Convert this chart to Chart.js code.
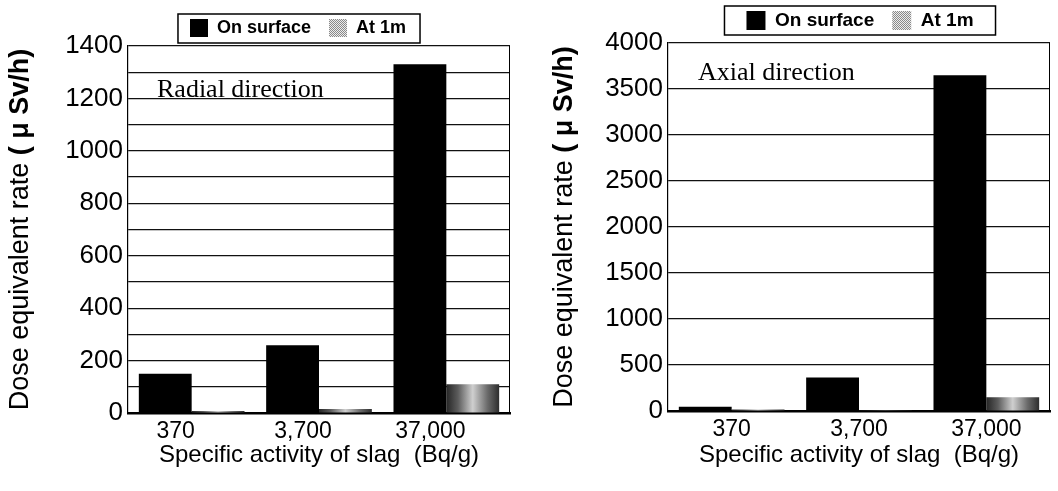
<!DOCTYPE html>
<html>
<head>
<meta charset="utf-8">
<script src="https://cdn.jsdelivr.net/npm/chart.js@4"></script>
<style>
  html, body { margin: 0; padding: 0; background: #fff; }
  #wrap { position: relative; width: 1058px; height: 491px; overflow: hidden; }
  .panel { position: absolute; top: 0; height: 491px; }
</style>
</head>
<body>
<div id="wrap">
  <div class="panel" style="left:0;width:530px"><canvas id="radial"></canvas></div>
  <div class="panel" style="left:530px;width:528px"><canvas id="axial"></canvas></div>
</div>
<script>
// Specific activity of slag (Bq/g)
const categories = ['370', '3,700', '37,000'];
const seriesNames = ['On surface', 'At 1m'];

// Dose equivalent rate (μSv/h), radial direction
const radialOnSurface = [150, 258, 1330];
const radialAt1m = [8, 15, 110];

// Dose equivalent rate (μSv/h), axial direction
const axialOnSurface = [45, 365, 3650];
const axialAt1m = [15, 8, 150];

// Value axes: [max, grid step, label step]
const radialAxis = [1400, 100, 200];
const axialAxis = [4000, 500, 500];

const xTitle = 'Specific activity of slag  (Bq/g)';
const yTitlePlain = 'Dose equivalent rate ';
const yTitleUnit = '( \u03bc Sv/h)';

const CATEGORY_SHARE = 0.83;
const SANS = '"Liberation Sans", Arial, sans-serif';
const SERIF = '"Liberation Serif", "Times New Roman", serif';

Chart.defaults.font.family = SANS;
Chart.defaults.color = '#000';

// Halftone-like cylinder shading for the "At 1m" bars
function shadedFill(context) {
  const chart = context.chart;
  const xs = chart.scales && chart.scales.x;
  if (!xs || context.dataIndex == null || !chart.chartArea) return '#9a9a9a';
  const catW = (xs.right - xs.left) / categories.length;
  const barW = catW * CATEGORY_SHARE / 2;
  const x0 = xs.getPixelForValue(context.dataIndex);
  if (!Number.isFinite(x0) || !Number.isFinite(barW) || barW <= 0) return '#9a9a9a';
  const g = chart.ctx.createLinearGradient(x0, 0, x0 + barW, 0);
  g.addColorStop(0, '#262626');
  g.addColorStop(0.22, '#5c5c5c');
  g.addColorStop(0.5, '#cfcfcf');
  g.addColorStop(0.78, '#6a6a6a');
  g.addColorStop(1, '#2c2c2c');
  return g;
}

// Dotted grey swatch used in the legend
function dottedSwatch(chart) {
  const c = document.createElement('canvas');
  c.width = 2; c.height = 2;
  const x = c.getContext('2d');
  x.fillStyle = '#ececec'; x.fillRect(0, 0, 2, 2);
  x.fillStyle = '#8a8a8a'; x.fillRect(0, 0, 1, 1); x.fillRect(1, 1, 1, 1);
  return chart.ctx.createPattern(c, 'repeat');
}

// Places the legend row above the plot and draws a frame around it
const legendFrame = {
  id: 'legendFrame',
  afterLayout(chart, args, o) {
    const lg = chart.legend;
    if (!lg) return;
    lg.left = o.cx - 260; lg.right = o.cx + 260;
    lg.top = o.top; lg.bottom = o.top + 44;
  },
  afterDraw(chart, args, o) {
    const hb = chart.legend && chart.legend.legendHitBoxes;
    if (!hb || !hb.length) return;
    const first = hb[0], last = hb[hb.length - 1];
    const l = first.left - o.padL, r = last.left + last.width + o.padR;
    const t = first.top - o.padT, b = first.top + first.height + o.padB;
    const ctx = chart.ctx;
    ctx.save();
    ctx.strokeStyle = '#000';
    ctx.lineWidth = 1.5;
    ctx.strokeRect(l, t, r - l, b - t);
    ctx.restore();
  }
};

// Rotated value-axis caption with a bold unit part
const yCaption = {
  id: 'yCaption',
  afterDraw(chart, args, o) {
    const { ctx, chartArea } = chart;
    const cy = (chartArea.top + chartArea.bottom) / 2 + o.dy;
    const fa = o.size + 'px ' + SANS;
    const fb = 'bold ' + o.size + 'px ' + SANS;
    ctx.save();
    ctx.translate(o.x, cy);
    ctx.rotate(-Math.PI / 2);
    ctx.fillStyle = '#000';
    ctx.textBaseline = 'middle';
    ctx.textAlign = 'left';
    ctx.font = fa; const wa = ctx.measureText(yTitlePlain).width;
    ctx.font = fb; const wb = ctx.measureText(yTitleUnit).width;
    const x = -(wa + wb) / 2;
    ctx.font = fa; ctx.fillText(yTitlePlain, x, 0);
    ctx.font = fb; ctx.fillText(yTitleUnit, x + wa, 0);
    ctx.restore();
  }
};

// Direction note inside the plot, plus the right-hand plot border
const panelNote = {
  id: 'panelNote',
  afterDraw(chart, args, o) {
    const { ctx, chartArea } = chart;
    ctx.save();
    ctx.strokeStyle = '#000';
    ctx.lineWidth = 1;
    ctx.beginPath();
    ctx.moveTo(chartArea.right - 0.5, chartArea.top);
    ctx.lineTo(chartArea.right - 0.5, chartArea.bottom);
    ctx.stroke();
    ctx.fillStyle = '#000';
    ctx.font = o.size + 'px ' + SERIF;
    ctx.textBaseline = 'alphabetic';
    ctx.textAlign = 'left';
    ctx.fillText(o.text, chartArea.left + o.dx, chartArea.top + o.dy);
    ctx.restore();
  }
};

function buildChart(id, o) {
  const [yMax, gridStep, labelStep] = o.axis;
  return new Chart(document.getElementById(id), {
    type: 'bar',
    data: {
      labels: categories,
      datasets: [
        { label: seriesNames[0], data: o.surface, backgroundColor: '#000', borderWidth: 0 },
        { label: seriesNames[1], data: o.oneMetre, backgroundColor: shadedFill, borderWidth: 0 }
      ]
    },
    options: {
      responsive: true,
      maintainAspectRatio: false,
      animation: false,
      events: [],
      layout: { padding: { top: o.top - 1, right: o.padRight, bottom: 0, left: 0 } },
      datasets: { bar: { categoryPercentage: CATEGORY_SHARE, barPercentage: 1 } },
      scales: {
        x: {
          grid: { display: false },
          border: { color: '#000', width: 2.5 },
          ticks: { font: { size: 23 }, color: '#000', padding: -3, labelOffset: o.labelOffset, maxRotation: 0 },
          title: { display: true, text: xTitle, font: { size: 24 }, color: '#000', padding: { top: 0, bottom: 21 } },
          afterFit(s) { s.height = o.xHeight; }
        },
        y: {
          min: 0,
          max: yMax,
          ticks: {
            stepSize: gridStep,
            maxTicksLimit: 100,
            autoSkip: false,
            font: { size: 26 },
            color: '#000',
            padding: 5,
            callback: (v) => (v % labelStep === 0 ? String(v) : '')
          },
          grid: { color: '#111', lineWidth: 1.2, drawTicks: false },
          border: { color: '#000', width: 1.2 },
          afterFit(s) { s.width = o.yWidth; }
        }
      },
      plugins: {
        tooltip: { enabled: false },
        legend: {
          position: 'top',
          maxHeight: 1,
          labels: {
            font: { size: o.legendFont, weight: 'bold' },
            color: '#000',
            boxWidth: o.legendFont,
            boxHeight: o.legendFont,
            padding: 18,
            generateLabels(chart) {
              const items = Chart.defaults.plugins.legend.labels.generateLabels(chart);
              items[0].fillStyle = '#000';
              items[0].strokeStyle = '#000';
              items[0].lineWidth = 0;
              items[1].fillStyle = dottedSwatch(chart);
              items[1].strokeStyle = 'rgba(0,0,0,0)';
              items[1].lineWidth = 0;
              return items;
            }
          }
        },
        legendFrame: o.legendBox,
        yCaption: { x: o.captionX, dy: 0, size: 27 },
        panelNote: o.note
      }
    },
    plugins: [legendFrame, yCaption, panelNote]
  });
}

buildChart('radial', {
  surface: radialOnSurface,
  oneMetre: radialAt1m,
  axis: radialAxis,
  top: 46,
  padRight: 20,
  xHeight: 78,
  yWidth: 128,
  labelOffset: -16,
  legendFont: 18,
  legendBox: { cx: 298, top: 1, padL: 12, padR: 14, padT: 5, padB: 6 },
  captionX: 21,
  note: { text: 'Radial direction', size: 26, dx: 29, dy: 51 }
});

buildChart('axial', {
  surface: axialOnSurface,
  oneMetre: axialAt1m,
  axis: axialAxis,
  top: 43,
  padRight: 8,
  xHeight: 80,
  yWidth: 138,
  labelOffset: 0,
  legendFont: 19,
  legendBox: { cx: 330, top: -7, padL: 22, padR: 22, padT: 5, padB: 5 },
  captionX: 35,
  note: { text: 'Axial direction', size: 26, dx: 30, dy: 37 }
});
</script>
</body>
</html>
